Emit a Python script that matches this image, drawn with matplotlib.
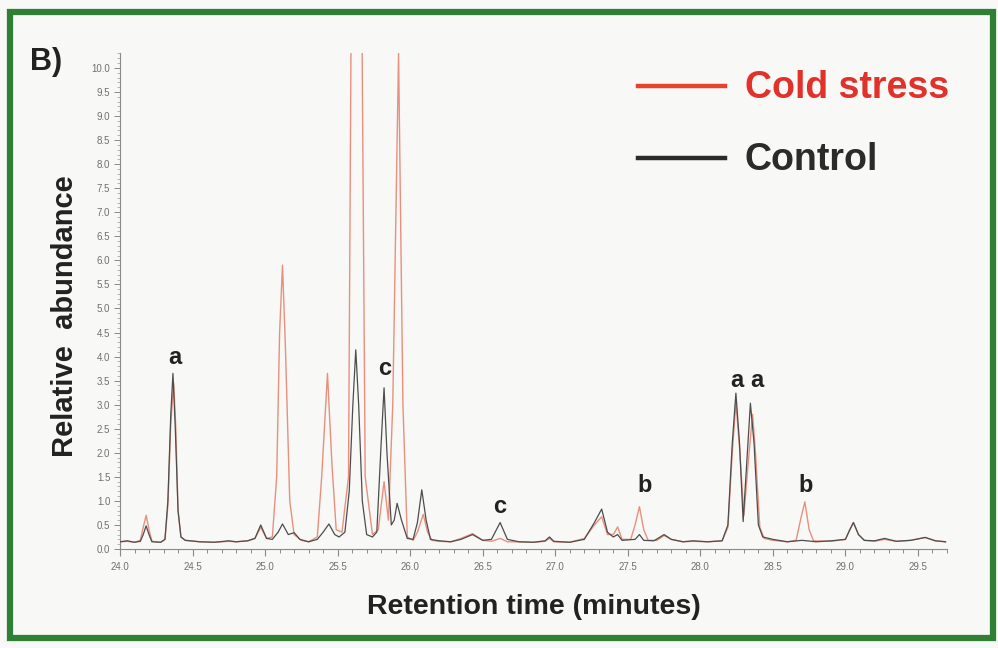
import matplotlib
matplotlib.use("Agg")
import matplotlib.pyplot as plt
from matplotlib.patches import Rectangle
from matplotlib.lines import Line2D
from matplotlib.ticker import MultipleLocator, FormatStrFormatter

plt.rcParams['font.family'] = ['Liberation Sans', 'DejaVu Sans']

# ---- data ----
control_t = [24.00, 24.05, 24.10, 24.14, 24.16, 24.18, 24.20, 24.22, 24.28, 24.31,
             24.33, 24.35, 24.365, 24.38, 24.40, 24.42, 24.45, 24.55, 24.65, 24.75,
             24.80, 24.88, 24.93, 24.97, 25.01, 25.05, 25.09, 25.12, 25.16, 25.20,
             25.24, 25.30, 25.36, 25.40, 25.44, 25.48, 25.51, 25.55, 25.58, 25.605,
             25.625, 25.645, 25.67, 25.70, 25.74, 25.77, 25.80, 25.82, 25.84, 25.87,
             25.89, 25.91, 25.94, 25.98, 26.02, 26.05, 26.08, 26.11, 26.14, 26.20,
             26.28, 26.35, 26.43, 26.50, 26.56, 26.62, 26.67, 26.75, 26.85, 26.93,
             26.96, 26.99, 27.10, 27.20, 27.27, 27.32, 27.36, 27.40, 27.43, 27.46,
             27.55, 27.58, 27.61, 27.68, 27.75, 27.80, 27.88, 27.95, 28.05, 28.15,
             28.19, 28.22, 28.245, 28.27, 28.295, 28.32, 28.345, 28.37, 28.40, 28.43,
             28.50, 28.60, 28.70, 28.80, 28.90, 29.00, 29.03, 29.055, 29.09, 29.13,
             29.20, 29.27, 29.35, 29.45, 29.55, 29.62, 29.69]
control_y = [0.15, 0.17, 0.14, 0.16, 0.30, 0.48, 0.30, 0.15, 0.14, 0.20,
             1.00, 2.80, 3.65, 2.60, 0.80, 0.25, 0.18, 0.15, 0.14, 0.17,
             0.15, 0.17, 0.22, 0.50, 0.22, 0.20, 0.35, 0.52, 0.30, 0.34,
             0.20, 0.15, 0.20, 0.35, 0.52, 0.30, 0.25, 0.35, 1.20, 3.00,
             4.14, 3.00, 1.00, 0.30, 0.25, 0.35, 2.20, 3.35, 2.00, 0.50,
             0.60, 0.95, 0.60, 0.22, 0.20, 0.55, 1.23, 0.60, 0.20, 0.17,
             0.15, 0.20, 0.30, 0.18, 0.20, 0.55, 0.20, 0.15, 0.14, 0.17,
             0.25, 0.16, 0.14, 0.20, 0.55, 0.83, 0.35, 0.25, 0.30, 0.18,
             0.20, 0.30, 0.18, 0.17, 0.30, 0.20, 0.15, 0.17, 0.15, 0.17,
             0.50, 2.20, 3.24, 2.20, 0.57, 1.80, 3.03, 2.20, 0.50, 0.25,
             0.20, 0.15, 0.18, 0.15, 0.17, 0.20, 0.40, 0.55, 0.30, 0.18,
             0.17, 0.22, 0.16, 0.18, 0.24, 0.17, 0.15]

cold_t = [24.00, 24.05, 24.10, 24.14, 24.16, 24.18, 24.20, 24.22, 24.28, 24.31,
          24.33, 24.35, 24.37, 24.385, 24.40, 24.42, 24.45, 24.55, 24.65, 24.75,
          24.80, 24.88, 24.93, 24.97, 25.01, 25.05, 25.08, 25.10, 25.12, 25.14,
          25.17, 25.20, 25.25, 25.30, 25.36, 25.39, 25.43, 25.46, 25.49, 25.53,
          25.575, 25.595, 25.63, 25.665, 25.69, 25.74, 25.78, 25.82, 25.85, 25.88,
          25.92, 25.95, 25.98, 26.02, 26.05, 26.09, 26.12, 26.15, 26.20, 26.28,
          26.35, 26.43, 26.50, 26.56, 26.62, 26.67, 26.75, 26.85, 26.93, 26.96,
          26.99, 27.10, 27.20, 27.27, 27.32, 27.36, 27.40, 27.43, 27.46, 27.52,
          27.55, 27.58, 27.61, 27.64, 27.70, 27.75, 27.80, 27.88, 27.95, 28.05,
          28.15, 28.19, 28.22, 28.245, 28.27, 28.30, 28.33, 28.36, 28.38, 28.41,
          28.44, 28.50, 28.60, 28.66, 28.69, 28.72, 28.75, 28.78, 28.90, 29.00,
          29.03, 29.055, 29.09, 29.13, 29.20, 29.27, 29.35, 29.45, 29.55, 29.62,
          29.69]
cold_y = [0.15, 0.16, 0.14, 0.18, 0.45, 0.70, 0.40, 0.16, 0.14, 0.20,
          0.90, 2.60, 3.45, 2.50, 0.80, 0.25, 0.18, 0.15, 0.14, 0.16,
          0.15, 0.17, 0.22, 0.45, 0.22, 0.25, 1.50, 4.50, 5.90, 4.20,
          1.00, 0.30, 0.18, 0.15, 0.25, 1.50, 3.65, 1.80, 0.40, 0.35,
          1.50, 12.0, 16.0, 12.0, 1.50, 0.30, 0.40, 1.40, 0.60, 3.00,
          10.30, 3.00, 0.25, 0.18, 0.35, 0.72, 0.35, 0.18, 0.16, 0.15,
          0.22, 0.32, 0.18, 0.16, 0.22, 0.15, 0.15, 0.14, 0.16, 0.22,
          0.15, 0.14, 0.22, 0.50, 0.67, 0.30, 0.30, 0.46, 0.20, 0.20,
          0.50, 0.88, 0.40, 0.18, 0.18, 0.28, 0.20, 0.15, 0.16, 0.15,
          0.17, 0.45, 2.00, 3.05, 2.10, 0.70, 1.80, 2.80, 2.00, 0.45,
          0.22, 0.18, 0.15, 0.18, 0.60, 0.98, 0.40, 0.17, 0.16, 0.20,
          0.40, 0.55, 0.30, 0.18, 0.16, 0.20, 0.16, 0.18, 0.24, 0.17,
          0.15]

peak_labels = ['a', 'c', 'c', 'b', 'a', 'a', 'b']
peak_label_x = [24.377, 25.821, 26.614, 27.614, 28.252, 28.390, 28.729]
peak_label_y = [3.84, 3.62, 0.74, 1.19, 3.37, 3.37, 1.19]

series_names = ['Cold stress', 'Control']

# ---- figure ----
bg = '#f8f8f6'
fig = plt.figure(figsize=(9.98, 6.48), dpi=100, facecolor=bg)
ax = fig.add_axes([120/998, 1 - 549/648, (947-120)/998, (549-53)/648])
ax.set_facecolor(bg)

red_trace = '#e8907e'
dark_trace = '#4d4d4d'
ax.plot(cold_t, cold_y, color=red_trace, lw=1.0, zorder=2)
ax.plot(control_t, control_y, color=dark_trace, lw=0.9, zorder=3)

ax.set_xlim(24.0, 29.70)
ax.set_ylim(0, 10.31)

for s in ['top', 'right']:
    ax.spines[s].set_visible(False)
for s in ['left', 'bottom']:
    ax.spines[s].set_color('#8a8a8a')
    ax.spines[s].set_linewidth(0.8)

ax.xaxis.set_major_locator(MultipleLocator(0.5))
ax.xaxis.set_minor_locator(MultipleLocator(0.1))
ax.yaxis.set_major_locator(MultipleLocator(0.5))
ax.yaxis.set_minor_locator(MultipleLocator(0.1))
ax.xaxis.set_major_formatter(FormatStrFormatter('%.1f'))
ax.yaxis.set_major_formatter(FormatStrFormatter('%.1f'))

ax.tick_params(axis='both', which='major', direction='out', colors='#8a8a8a',
               labelcolor='#707070', labelsize=7)
ax.tick_params(axis='x', which='major', length=5, width=0.8, pad=4)
ax.tick_params(axis='x', which='minor', length=3, width=0.7, colors='#8a8a8a')
ax.tick_params(axis='y', which='major', length=4, width=0.7, pad=3)
ax.tick_params(axis='y', which='minor', length=2, width=0.5, colors='#9a9a9a')

ax.set_xlabel('Retention time (minutes)', fontsize=20.5, fontweight='bold',
              color='#222222', labelpad=16)
ax.set_ylabel('Relative  abundance', fontsize=21, fontweight='bold',
              color='#222222')
ax.yaxis.set_label_coords(-0.05, 0.47)

for lab, x, y in zip(peak_labels, peak_label_x, peak_label_y):
    ax.text(x, y, lab, ha='center', va='baseline', fontsize=17,
            fontweight='bold', color='#222222')

# legend drawn in figure coordinates
leg_red = '#e5432d'
leg_dark = '#2b2b2b'
fig.add_artist(Line2D([638/998, 725/998], [1 - 86/648, 1 - 86/648],
                      color=leg_red, lw=3.2))
fig.add_artist(Line2D([638/998, 725/998], [1 - 158/648, 1 - 158/648],
                      color=leg_dark, lw=3.2))
fig.text(745/998, 1 - 88/648, series_names[0], color='#e0312a', fontsize=27,
         fontweight='bold', va='center', ha='left')
fig.text(745/998, 1 - 160/648, series_names[1], color='#2b2b2b', fontsize=27,
         fontweight='bold', va='center', ha='left')

fig.text(30/998, 1 - 62/648, 'B)', fontsize=22, fontweight='bold',
         color='#222222', va='center', ha='left')

# green frame
fig.add_artist(Rectangle((10/998, 1 - 638/648), (993-10)/998, (638-12)/648,
                         transform=fig.transFigure, fill=False,
                         edgecolor='#2f7f34', lw=4.5))

fig.savefig('out.png', dpi=100, facecolor=bg)
